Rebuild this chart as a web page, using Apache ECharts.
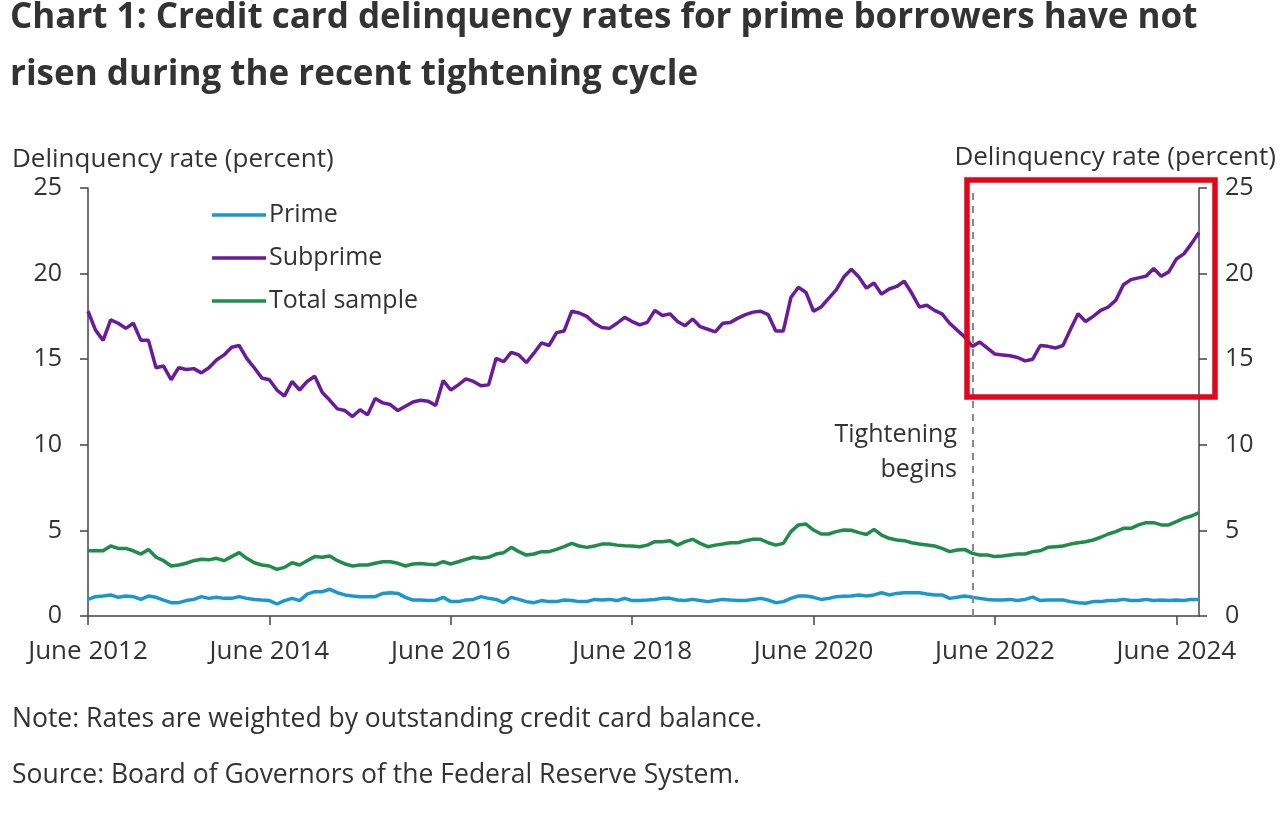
<!DOCTYPE html>
<html><head><meta charset="utf-8">
<script src="https://cdn.jsdelivr.net/npm/echarts@6/dist/echarts.min.js"></script>
<style>html,body{margin:0;padding:0;background:#fff}#c{width:1284px;height:815px}</style>
</head><body><div id="c"></div><script>
// ---- data ----
const startYear = 2012, startMonth = 6, monthCount = 148; // June 2012 .. Sept 2024, monthly
const monthNames = ['Jan','Feb','Mar','Apr','May','Jun','Jul','Aug','Sep','Oct','Nov','Dec'];
const categories = [];
for (let k = 0; k < monthCount; k++) {
  const m = (startMonth - 1 + k) % 12, y = startYear + Math.floor((startMonth - 1 + k) / 12);
  categories.push(monthNames[m] + ' ' + y);
}
const tickLabels = ['June 2012','June 2014','June 2016','June 2018','June 2020','June 2022','June 2024'];
const tickStep = 24;
const tighteningStart = 'Mar 2022';
const seriesNames = ['Prime','Subprime','Total sample'];

const prime = [0.97,1.13,1.17,1.23,1.09,1.17,1.13,0.97,1.17,1.09,
0.93,0.78,0.78,0.9,0.97,1.13,1.03,1.09,1.03,1.03,
1.13,1.03,0.97,0.93,0.9,0.7,0.9,1.03,0.9,1.28,
1.42,1.42,1.56,1.36,1.23,1.17,1.13,1.13,1.13,1.32,
1.36,1.32,1.09,0.93,0.93,0.9,0.92,1.09,0.84,0.84,
0.93,0.97,1.13,1.03,0.97,0.78,1.09,0.97,0.84,0.78,
0.9,0.84,0.84,0.93,0.9,0.84,0.84,0.97,0.93,0.97,
0.9,1.03,0.9,0.9,0.93,0.97,1.03,1.03,0.93,0.9,
0.97,0.9,0.84,0.9,0.97,0.93,0.9,0.9,0.97,1.03,
0.93,0.78,0.84,1.03,1.17,1.17,1.09,0.97,1.03,1.13,
1.15,1.17,1.23,1.17,1.23,1.36,1.23,1.32,1.36,1.36,
1.36,1.28,1.23,1.23,1.03,1.1,1.17,1.1,1.03,0.97,
0.93,0.93,0.97,0.9,0.97,1.1,0.9,0.93,0.93,0.93,
0.84,0.78,0.74,0.84,0.84,0.9,0.9,0.97,0.9,0.9,
0.97,0.9,0.93,0.9,0.93,0.9,0.97,0.97];

const subprime = [17.8,16.7,16.1,17.3,17.1,16.8,17.1,16.1,16.1,14.5,
14.6,13.8,14.5,14.4,14.45,14.2,14.5,14.95,15.25,15.7,
15.8,15.05,14.5,13.9,13.8,13.2,12.85,13.7,13.2,13.7,
14.0,13.05,12.6,12.1,12.0,11.65,12.05,11.75,12.7,12.45,
12.35,12.0,12.25,12.5,12.6,12.55,12.3,13.75,13.2,13.5,
13.85,13.7,13.45,13.5,15.05,14.85,15.4,15.25,14.8,15.35,
15.95,15.8,16.55,16.65,17.8,17.7,17.5,17.1,16.85,16.8,
17.1,17.45,17.2,17.0,17.15,17.85,17.55,17.65,17.2,16.95,
17.35,16.9,16.75,16.6,17.1,17.15,17.4,17.6,17.75,17.8,
17.6,16.65,16.65,18.6,19.2,18.9,17.8,18.05,18.55,19.05,
19.8,20.25,19.8,19.15,19.45,18.8,19.1,19.25,19.55,18.85,
18.05,18.15,17.85,17.65,17.1,16.7,16.3,15.75,16.0,15.65,
15.3,15.25,15.2,15.1,14.9,15.0,15.8,15.75,15.65,15.8,
16.75,17.65,17.2,17.5,17.85,18.05,18.45,19.35,19.65,19.75,
19.85,20.3,19.85,20.1,20.85,21.15,21.75,22.4];

const totalSample = [3.81,3.81,3.81,4.09,3.95,3.95,3.81,3.62,3.89,3.43,
3.23,2.92,2.98,3.08,3.23,3.31,3.28,3.37,3.23,3.47,
3.7,3.37,3.11,2.98,2.92,2.72,2.84,3.11,2.98,3.23,
3.47,3.43,3.5,3.23,3.04,2.92,2.98,2.98,3.08,3.17,
3.17,3.08,2.92,3.04,3.06,3.02,3.0,3.17,3.04,3.17,
3.31,3.43,3.37,3.43,3.62,3.7,4.01,3.76,3.56,3.62,
3.76,3.76,3.89,4.05,4.24,4.09,4.01,4.09,4.2,4.2,
4.14,4.1,4.09,4.05,4.14,4.34,4.34,4.4,4.14,4.34,
4.48,4.24,4.05,4.14,4.2,4.28,4.28,4.4,4.48,4.48,
4.28,4.14,4.24,4.93,5.32,5.37,5.02,4.79,4.79,4.93,
5.02,5.01,4.87,4.76,5.06,4.73,4.54,4.44,4.4,4.28,
4.2,4.15,4.09,3.95,3.76,3.85,3.89,3.66,3.56,3.56,
3.47,3.5,3.56,3.62,3.62,3.76,3.81,4.01,4.05,4.09,
4.2,4.28,4.34,4.44,4.6,4.79,4.93,5.12,5.12,5.32,
5.45,5.45,5.32,5.32,5.51,5.71,5.84,6.04];

// ---- chart ----
const FONT = '"Open Sans", sans-serif';
const TXT = '#333333';
const AX = '#444444';
const COLORS = ['#1a97cf', '#6a1b9a', '#1f8c4a'];
const chart = echarts.init(document.getElementById('c'), null, {renderer: 'canvas'});
const showTick = (i) => i % tickStep === 0;

const yAxisBase = {
  type: 'value', min: 0, max: 25, interval: 5,
  axisLine: {show: true, lineStyle: {color: AX, width: 1.5}},
  axisTick: {show: true, length: 8, lineStyle: {color: AX, width: 1.5}},
  axisLabel: {fontSize: 25, color: TXT, fontFamily: FONT, margin: 26},
  splitLine: {show: false}
};

const option = {
  animation: false,
  backgroundColor: '#ffffff',
  textStyle: {fontFamily: FONT},
  grid: {left: 88, right: 85, top: 188, bottom: 199, containLabel: false},
  legend: {
    orient: 'vertical', left: 207, top: 197,
    icon: 'rect', itemWidth: 54, itemHeight: 3.5, itemGap: 17,
    data: seriesNames,
    textStyle: {fontSize: 25, color: TXT, fontFamily: FONT, lineHeight: 26, padding: [0, 0, 0, -2]}
  },
  xAxis: {
    type: 'category', data: categories, boundaryGap: false,
    axisLine: {lineStyle: {color: AX, width: 1.5}},
    axisTick: {show: true, interval: showTick, length: 9, lineStyle: {color: AX, width: 1.5}},
    axisLabel: {
      interval: showTick, fontSize: 26, color: TXT, fontFamily: FONT, margin: 23,
      formatter: (v, i) => tickLabels[Math.round(i / tickStep)]
    },
    splitLine: {show: false}
  },
  yAxis: [
    Object.assign({}, yAxisBase, {position: 'left'}),
    Object.assign({}, yAxisBase, {position: 'right'})
  ],
  series: [
    {name: seriesNames[0], type: 'line', data: prime, symbol: 'none', yAxisIndex: 0,
     lineStyle: {width: 3.5, color: COLORS[0]}, itemStyle: {color: COLORS[0]}},
    {name: seriesNames[1], type: 'line', data: subprime, symbol: 'none', yAxisIndex: 0,
     lineStyle: {width: 3.5, color: COLORS[1]}, itemStyle: {color: COLORS[1]},
     markLine: {silent: true, symbol: 'none', label: {show: false},
       lineStyle: {type: [7, 6], color: '#8a8a8a', width: 2},
       data: [{xAxis: tighteningStart}]}},
    {name: seriesNames[2], type: 'line', data: totalSample, symbol: 'none', yAxisIndex: 0,
     lineStyle: {width: 3.5, color: COLORS[2]}, itemStyle: {color: COLORS[2]}}
  ],
  graphic: [
    {type: 'text', x: 10, y: 18, style: {text: 'Chart 1: Credit card delinquency rates for prime borrowers have not',
      fontSize: 35, fontWeight: 'bold', fontFamily: FONT, fill: '#333', align: 'left', verticalAlign: 'middle'}},
    {type: 'text', x: 10, y: 75, style: {text: 'risen during the recent tightening cycle',
      fontSize: 35, fontWeight: 'bold', fontFamily: FONT, fill: '#333', align: 'left', verticalAlign: 'middle'}},
    {type: 'text', x: 12, y: 160, style: {text: 'Delinquency rate (percent)',
      fontSize: 26, fontFamily: FONT, fill: TXT, align: 'left', verticalAlign: 'middle'}},
    {type: 'text', x: 1276, y: 158, style: {text: 'Delinquency rate (percent)',
      fontSize: 26, fontFamily: FONT, fill: TXT, align: 'right', verticalAlign: 'middle'}},
    {type: 'text', x: 957, y: 435, style: {text: 'Tightening',
      fontSize: 25, fontFamily: FONT, fill: TXT, align: 'right', verticalAlign: 'middle'}},
    {type: 'text', x: 957, y: 470, style: {text: 'begins',
      fontSize: 25, fontFamily: FONT, fill: TXT, align: 'right', verticalAlign: 'middle'}},
    {type: 'text', x: 12, y: 719, style: {text: 'Note: Rates are weighted by outstanding credit card balance.',
      fontSize: 26.5, fontFamily: FONT, fill: TXT, align: 'left', verticalAlign: 'middle'}},
    {type: 'text', x: 12, y: 775, style: {text: 'Source: Board of Governors of the Federal Reserve System.',
      fontSize: 26.5, fontFamily: FONT, fill: TXT, align: 'left', verticalAlign: 'middle'}},
    {type: 'rect', shape: {x: 967, y: 180, width: 248, height: 217},
      style: {fill: 'none', stroke: '#e1061b', lineWidth: 5.5}, z: 100}
  ]
};
chart.setOption(option);
</script></body></html>
